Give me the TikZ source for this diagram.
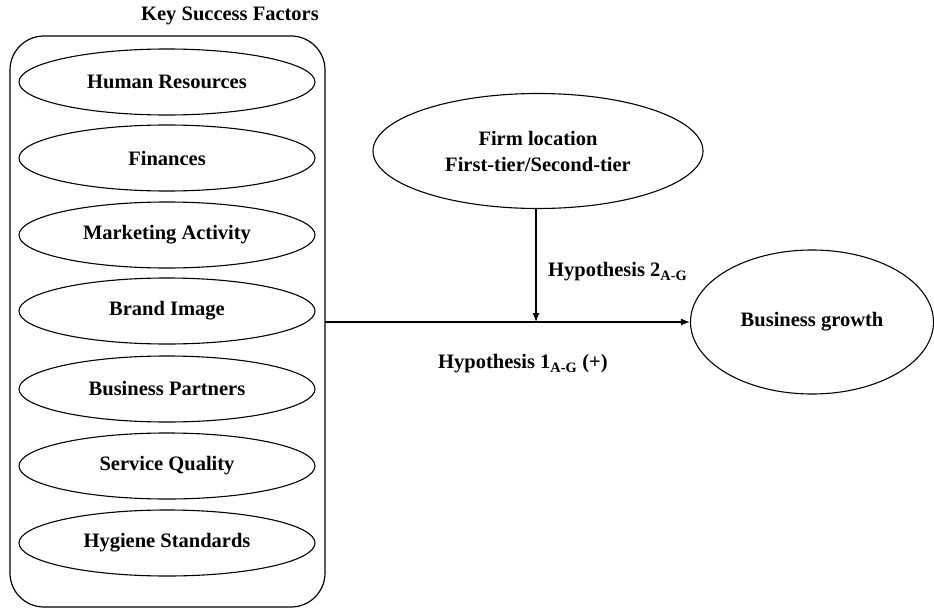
\documentclass[tikz,border=0pt]{standalone}
\usepackage{fontspec}
\setmainfont{Liberation Serif}
\usetikzlibrary{shapes.geometric,arrows.meta}
\tikzset{
  x=1pt,y=-1pt,
  lbl/.style={font=\fontsize{20.5}{24}\selectfont\bfseries, inner sep=0pt},
  factor/.style={ellipse, draw, line width=1.1pt, minimum width=296pt, minimum height=66pt, inner sep=0pt, font=\fontsize{20.5}{24}\selectfont\bfseries},
  bigell/.style={ellipse, draw, line width=1.1pt, inner sep=0pt, align=center, font=\fontsize{20.5}{26}\selectfont\bfseries},
  conn/.style={line width=1.2pt, -{Latex[length=9pt,width=7pt]}}
}
\begin{document}
\begin{tikzpicture}
\useasboundingbox (0,0) rectangle (934,610);
\node[lbl] (title) at (230,16) {Key Success Factors};
\draw[line width=1.2pt, rounded corners=34pt] (10,36) rectangle (325,607);
\coordinate (boxr) at (325,322);
\node[factor] (f1) at (167,82) {Human Resources};
\node[factor] (f2) at (167,158) {Finances};
\node[factor] (f3) at (167,235) {Marketing Activity};
\node[factor] (f4) at (167,311) {Brand Image};
\node[factor] (f5) at (167,389) {Business Partners};
\node[factor] (f6) at (167,466) {Service Quality};
\node[factor] (f7) at (167,543) {Hygiene Standards};
\node[bigell, minimum width=330pt, minimum height=115pt] (firm) at (538,151) {Firm location\\First-tier/Second-tier};
\node[bigell, minimum width=243pt, minimum height=144pt] (growth) at (812,322) {Business growth};
\coordinate (mid) at (536,322);
\draw[conn] (boxr) -- (growth.west);
\draw[conn] (firm.south -| mid) -- (mid);
\node[lbl, anchor=west] (h2) at (548,272) {Hypothesis 2\textsubscript{A-G}};
\node[lbl, anchor=west] (h1) at (438,364) {Hypothesis 1\textsubscript{A-G} (+)};
\end{tikzpicture}
\end{document}
